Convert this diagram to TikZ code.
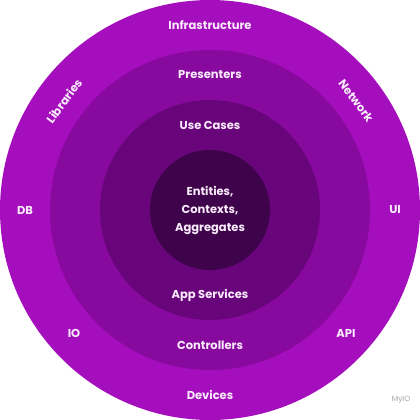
\documentclass[tikz,border=0pt]{standalone}
\usepackage{fontspec}
\setmainfont{Poppins}
\definecolor{ring1}{RGB}{164,14,188}
\definecolor{ring2}{RGB}{136,9,158}
\definecolor{ring3}{RGB}{104,5,122}
\definecolor{ring4}{RGB}{62,3,74}
\definecolor{txt}{RGB}{250,236,252}
\begin{document}
\begin{tikzpicture}[x=1pt,y=-1pt,
  lab/.style={text=txt,font=\bfseries\fontsize{11.5}{13}\selectfont,inner sep=0pt,align=center},
  ring/.style={draw=none}]
\useasboundingbox (0,0) rectangle (420,420);
\fill[white] (0,0) rectangle (420,420);
\coordinate (c) at (210,210);
\fill[ring1] (c) circle[radius=210];
\fill[ring2] (c) circle[radius=160];
\fill[ring3] (c) circle[radius=110];
\fill[ring4] (c) circle[radius=60];
\node[lab] (infra) at (210,25) {Infrastructure};
\node[lab] (pres) at (210,75) {Presenters};
\node[lab] (uc) at (210,125) {Use Cases};
\node[lab,font=\bfseries\fontsize{11.5}{18}\selectfont] (ent) at (210,210) {Entities,\\Contexts,\\Aggregates};
\node[lab] (apps) at (210,295) {App Services};
\node[lab] (ctrl) at (210,345) {Controllers};
\node[lab] (dev) at (210,395) {Devices};
\node[lab] (db) at (25,210) {DB};
\node[lab] (ui) at (395,210) {UI};
\node[lab] (io) at (74,333) {IO};
\node[lab] (api) at (346,333) {API};
\node[lab,rotate=53.5] (libs) at (64,101) {Libraries};
\node[lab,rotate=-53.5] (net) at (356,101) {Network};
\node[text=black!35,font=\fontsize{7.5}{8}\selectfont,inner sep=0pt] (wm) at (401,400) {MyIO};
\end{tikzpicture}
\end{document}
